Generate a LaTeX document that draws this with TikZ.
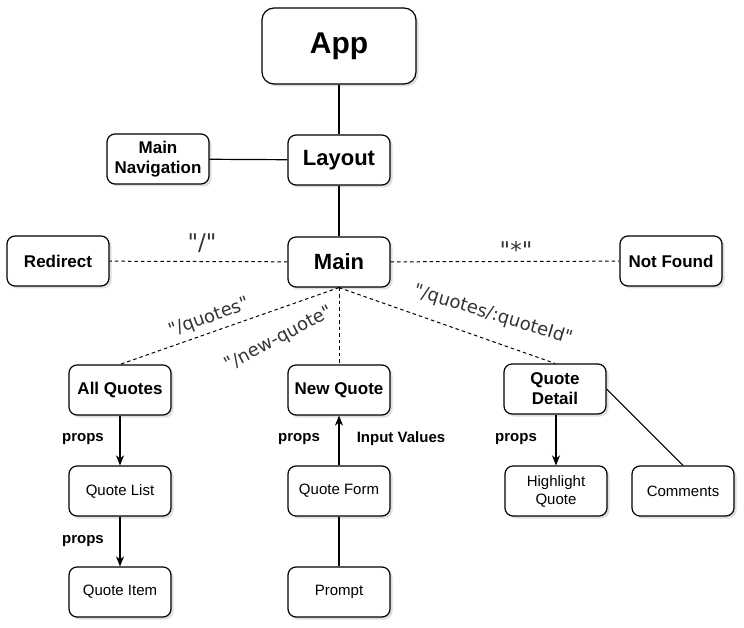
\documentclass[tikz,border=0pt]{standalone}
\usepackage{fontspec}
\setmainfont{Liberation Sans}
\newfontfamily\routefont{DejaVu Sans}
\usetikzlibrary{shadows}
\usetikzlibrary{arrows.meta}
\usepackage{xcolor}
\definecolor{routegray}{HTML}{333333}

\begin{document}
\begin{tikzpicture}[x=1pt, y=-1pt, line width=1.2pt,
	box/.style={draw, rounded corners=8pt, fill=white, minimum width=102pt, minimum height=50pt, align=center, inner sep=2pt, drop shadow={shadow xshift=2.5pt, shadow yshift=-2.5pt, opacity=0.25}},
	appbox/.style={box, minimum width=154pt, minimum height=76pt, rounded corners=12pt, font=\bfseries\fontsize{30}{34}\selectfont},
	pagebox/.style={box, font=\bfseries\fontsize{22}{26}\selectfont},
	compbox/.style={box, font=\bfseries\fontsize{17}{20}\selectfont},
	partbox/.style={box, font=\fontsize{15}{18}\selectfont},
	route/.style={dash pattern=on 3.5pt off 3pt, line width=1pt},
	routetext/.style={font=\routefont\fontsize{18}{22}\selectfont, text=routegray},
	bigroute/.style={font=\routefont\fontsize{23}{26}\selectfont, text=routegray},
	proptext/.style={font=\bfseries\fontsize{15}{18}\selectfont},
	flow/.style={-{Stealth[length=10pt, width=8pt, inset=3pt]}}]
	\useasboundingbox (0,0) rectangle (744,628);
	% boxes
	\node[appbox] (app) at (339,46) {App};
	\node[pagebox] (layout) at (339,160) {Layout};
	\node[compbox] (nav) at (158,159) {Main\\Navigation};
	\node[pagebox] (main) at (339,262) {Main};
	\node[compbox] (redirect) at (58,261) {Redirect};
	\node[compbox] (notfound) at (671,261) {Not Found};
	\node[compbox] (all) at (120,390) {All Quotes};
	\node[compbox] (new) at (339,390) {New Quote};
	\node[compbox] (detail) at (555,389) {Quote\\Detail};
	\node[partbox] (list) at (120,491) {Quote List};
	\node[partbox] (item) at (120,592) {Quote Item};
	\node[partbox] (form) at (339,491) {Quote Form};
	\node[partbox] (prompt) at (339,592) {Prompt};
	\node[partbox] (highlight) at (556,491) {Highlight\\Quote};
	\node[partbox] (comments) at (683,491) {Comments};
	% solid links
	\draw (app) -- (layout);
	\draw (layout) -- (nav);
	\draw (layout) -- (main);
	\draw (prompt) -- (form);
	\draw (detail.east) -- (comments.north);
	% routes
	\draw[route] (main) -- (redirect);
	\draw[route] (main) -- (notfound);
	\draw[route] (main.south) -- (all.north);
	\draw[route] (main.south) -- (new.north);
	\draw[route] (main.south) -- (detail.north);
	\node[bigroute] (lroot) at (202,243) {"/"};
	\node[bigroute] (lany) at (516,250) {"*"};
	\node[routetext, rotate=20] (lquotes) at (209,318) {"/quotes"};
	\node[routetext, rotate=28] (lnew) at (279,339) {"/new-quote"};
	\node[routetext, rotate=-17] (ldetail) at (493,315) {"/quotes/:quoteId"};
	% props
	\draw[flow] (all) -- (list);
	\draw[flow] (list) -- (item);
	\draw[flow] (form) -- (new);
	\draw[flow] (detail.south -| highlight.north) -- (highlight.north);
	\node[proptext] (p1) at (83,439) {props};
	\node[proptext] (p2) at (83,541) {props};
	\node[proptext] (p3) at (299,439) {props};
	\node[proptext] (input) at (401,439) {Input Values};
	\node[proptext] (p4) at (516,439) {props};
\end{tikzpicture}
\end{document}
